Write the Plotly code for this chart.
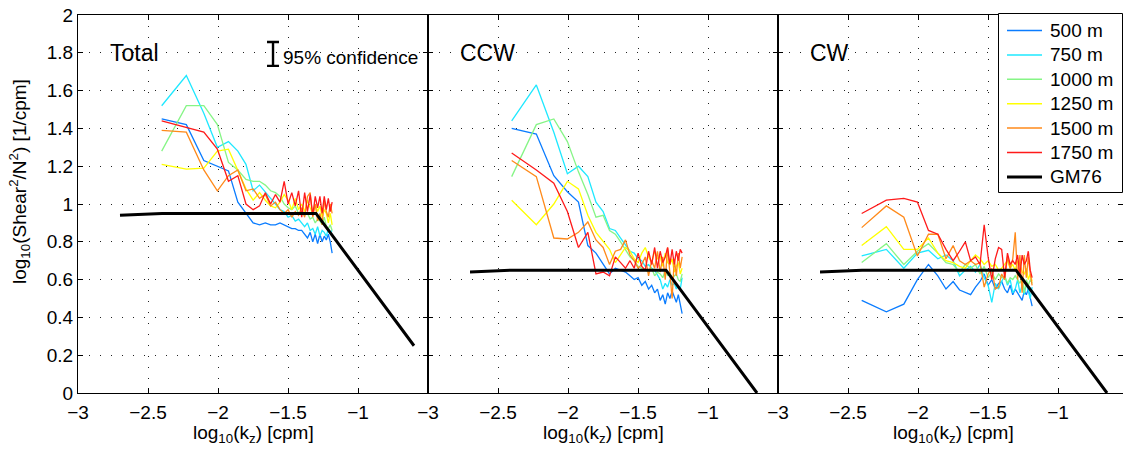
import plotly.graph_objects as go

# log10 wavenumber of each spectral estimate [cpm]
log_kz = [-2.4023, -2.2262, -2.1013, -2.0044, -1.9252, -1.8582, -1.8002, -1.7491,
          -1.7033, -1.6619, -1.6242, -1.5894, -1.5572, -1.5272, -1.4992, -1.4729,
          -1.4481, -1.4246, -1.4023, -1.3811, -1.3609, -1.3416, -1.3231, -1.3054,
          -1.2884, -1.2720, -1.2562, -1.2409, -1.2262, -1.2120, -1.1982, -1.1848]

depths = ["500 m", "750 m", "1000 m", "1250 m", "1500 m", "1750 m"]
colors = ["#0a7cff", "#1ee8ff", "#86f586", "#ffff00", "#ff8a1a", "#ff1a1a"]

total = {
    "500 m": [1.45, 1.42, 1.23, 1.20, 1.175, 1.01, 0.95, 0.90, 0.89, 0.90, 0.89, 0.89, 0.90, 0.89, 0.88, 0.87,
              0.87, 0.86, 0.86, 0.84, 0.82, 0.85, 0.80, 0.84, 0.79, 0.84, 0.80, 0.83, 0.81, 0.84, 0.80, 0.74],
    "750 m": [1.52, 1.68, 1.48, 1.30, 1.33, 1.28, 1.21, 1.07, 1.10, 1.06, 1.03, 1.00, 0.97, 0.96, 0.93, 0.94,
              0.91, 0.92, 0.90, 0.88, 0.90, 0.86, 0.87, 0.84, 0.88, 0.83, 0.86, 0.85, 0.83, 0.87, 0.85, 0.86],
    "1000 m": [1.28, 1.52, 1.52, 1.42, 1.22, 1.18, 1.13, 1.12, 1.12, 1.10, 1.07, 1.06, 1.04, 1.00, 0.98, 0.97,
               0.99, 0.95, 0.96, 0.94, 0.95, 0.92, 0.93, 0.90, 0.92, 0.91, 0.89, 0.93, 0.88, 0.87, 0.89, 0.86],
    "1250 m": [1.21, 1.185, 1.19, 1.28, 1.29, 1.18, 1.08, 1.02, 1.06, 1.02, 0.99, 0.98, 1.01, 1.05, 1.02, 0.97,
               1.03, 0.97, 1.00, 0.96, 1.02, 0.98, 0.95, 1.00, 0.96, 0.99, 0.93, 0.97, 0.95, 0.90, 0.95, 0.89],
    "1500 m": [1.39, 1.38, 1.18, 1.07, 1.15, 1.18, 1.07, 1.08, 1.03, 1.05, 0.99, 1.01, 0.97, 0.95, 0.97, 0.93,
               0.96, 0.94, 0.98, 0.93, 1.04, 1.06, 0.93, 1.00, 0.91, 0.95, 0.89, 1.02, 0.96, 0.93, 1.00, 0.95],
    "1750 m": [1.44, 1.405, 1.38, 1.29, 1.12, 1.15, 1.00, 0.97, 0.99, 1.06, 1.00, 1.05, 1.01, 1.12, 1.00, 1.06,
               0.99, 1.07, 0.93, 1.06, 0.96, 1.05, 0.94, 1.04, 0.98, 1.04, 0.95, 1.04, 0.97, 1.03, 0.96, 1.01],
}

ccw = {
    "500 m": [1.40, 1.37, 1.15, 1.065, 1.01, 0.78, 0.74, 0.68, 0.63, 0.66, 0.65, 0.64, 0.62, 0.60, 0.61, 0.57,
              0.59, 0.55, 0.57, 0.53, 0.55, 0.49, 0.52, 0.47, 0.53, 0.50, 0.54, 0.51, 0.48, 0.52, 0.47, 0.42],
    "750 m": [1.44, 1.63, 1.38, 1.16, 1.20, 1.145, 1.01, 0.96, 0.87, 0.86, 0.82, 0.78, 0.75, 0.74, 0.71, 0.70,
              0.67, 0.68, 0.66, 0.65, 0.62, 0.60, 0.55, 0.58, 0.56, 0.60, 0.57, 0.58, 0.55, 0.57, 0.55, 0.61],
    "1000 m": [1.145, 1.42, 1.45, 1.33, 1.17, 1.05, 0.93, 0.94, 0.86, 0.84, 0.80, 0.76, 0.72, 0.70, 0.67, 0.66,
               0.65, 0.64, 0.66, 0.62, 0.64, 0.63, 0.61, 0.65, 0.62, 0.64, 0.60, 0.62, 0.63, 0.60, 0.59, 0.63],
    "1250 m": [1.02, 0.89, 1.00, 1.12, 1.08, 0.94, 0.85, 0.80, 0.76, 0.69, 0.73, 0.77, 0.75, 0.71, 0.69, 0.74,
               0.77, 0.72, 0.69, 0.75, 0.71, 0.72, 0.67, 0.74, 0.69, 0.68, 0.71, 0.64, 0.67, 0.69, 0.63, 0.66],
    "1500 m": [1.23, 1.145, 0.82, 0.815, 0.85, 0.905, 0.81, 0.77, 0.68, 0.75, 0.76, 0.81, 0.73, 0.70, 0.66, 0.68,
               0.72, 0.62, 0.70, 0.66, 0.75, 0.64, 0.72, 0.60, 0.77, 0.62, 0.50, 0.71, 0.62, 0.74, 0.66, 0.72],
    "1750 m": [1.27, 1.18, 1.11, 0.96, 0.77, 0.85, 0.63, 0.64, 0.62, 0.72, 0.69, 0.66, 0.70, 0.66, 0.74, 0.67,
               0.65, 0.75, 0.68, 0.77, 0.66, 0.75, 0.69, 0.72, 0.77, 0.68, 0.76, 0.68, 0.75, 0.70, 0.76, 0.74],
}

cw = {
    "500 m": [0.49, 0.43, 0.47, 0.60, 0.68, 0.62, 0.55, 0.59, 0.545, 0.53, 0.52, 0.56, 0.59, 0.63, 0.57, 0.60,
              0.55, 0.58, 0.59, 0.55, 0.53, 0.57, 0.52, 0.55, 0.53, 0.51, 0.49, 0.54, 0.52, 0.55, 0.51, 0.46],
    "750 m": [0.725, 0.76, 0.66, 0.74, 0.755, 0.71, 0.73, 0.70, 0.62, 0.65, 0.67, 0.64, 0.68, 0.61, 0.57, 0.48,
              0.58, 0.55, 0.59, 0.62, 0.57, 0.60, 0.53, 0.55, 0.60, 0.53, 0.57, 0.52, 0.58, 0.54, 0.50, 0.56],
    "1000 m": [0.69, 0.79, 0.68, 0.75, 0.79, 0.74, 0.69, 0.68, 0.64, 0.68, 0.66, 0.68, 0.63, 0.67, 0.61, 0.64,
               0.60, 0.63, 0.61, 0.62, 0.58, 0.61, 0.60, 0.62, 0.60, 0.58, 0.61, 0.53, 0.60, 0.57, 0.60, 0.58],
    "1250 m": [0.78, 0.88, 0.76, 0.76, 0.82, 0.74, 0.70, 0.69, 0.67, 0.66, 0.70, 0.73, 0.71, 0.68, 0.70, 0.67,
               0.68, 0.65, 0.66, 0.68, 0.70, 0.66, 0.68, 0.65, 0.70, 0.68, 0.64, 0.63, 0.66, 0.60, 0.63, 0.59],
    "1500 m": [0.875, 0.99, 0.93, 0.725, 0.84, 0.84, 0.71, 0.78, 0.70, 0.68, 0.70, 0.68, 0.69, 0.56, 0.63, 0.66,
               0.55, 0.56, 0.63, 0.60, 0.72, 0.66, 0.71, 0.85, 0.60, 0.73, 0.53, 0.73, 0.61, 0.72, 0.63, 0.57],
    "1750 m": [0.95, 1.02, 1.03, 1.01, 0.86, 0.84, 0.76, 0.70, 0.75, 0.80, 0.70, 0.72, 0.68, 0.89, 0.72, 0.60,
               0.71, 0.77, 0.76, 0.61, 0.74, 0.68, 0.70, 0.68, 0.73, 0.62, 0.73, 0.68, 0.70, 0.75, 0.65, 0.61],
}

# GM76 reference spectrum (log10 kz, log10 level) per panel
gm_x_total = [-2.7, -2.4, -1.3, -0.6]
gm_y_total = [0.94, 0.95, 0.95, 0.25]
gm_x_half = [-2.7, -2.4, -1.3, -0.65]
gm_y_half = [0.64, 0.65, 0.65, 0.0]

panel_titles = ["Total", "CCW", "CW"]
x_ticks = [-3, -2.5, -2, -1.5, -1]
x_title = "log<sub>10</sub>(k<sub>z</sub>) [cpm]"
y_title = "log<sub>10</sub>(Shear<sup>2</sup>/N<sup>2</sup>) [1/cpm]"

conf_x, conf_y, conf_half = -1.607, 1.794, 0.063
conf_label = "95% confidence"

FONT = "Liberation Sans, Arial, Helvetica, sans-serif"
fig = go.Figure()

panels = [(total, gm_x_total, gm_y_total), (ccw, gm_x_half, gm_y_half), (cw, gm_x_half, gm_y_half)]
for p, (data, gx, gy) in enumerate(panels):
    xa = "x" if p == 0 else f"x{p+1}"
    ya = "y" if p == 0 else f"y{p+1}"
    for name, col in zip(depths, colors):
        fig.add_trace(go.Scatter(x=log_kz, y=data[name], mode="lines", name=name,
                                 line=dict(color=col, width=1.3), xaxis=xa, yaxis=ya,
                                 showlegend=False))
    fig.add_trace(go.Scatter(x=gx, y=gy, mode="lines", name="GM76",
                             line=dict(color="black", width=3), xaxis=xa, yaxis=ya,
                             showlegend=False))

# 95% confidence bar
fig.add_trace(go.Scatter(x=[conf_x], y=[conf_y], mode="markers", showlegend=False,
                         marker=dict(size=1, color="black", opacity=0),
                         error_y=dict(type="constant", value=conf_half, color="black",
                                      thickness=2.4, width=6),
                         xaxis="x", yaxis="y"))

W, H = 1123, 452
ml, mt, mb = 78, 15, 59
pw = W - ml
ph = H - mt - mb
pan = 350
domains = [[0, pan / pw], [pan / pw, 2 * pan / pw], [2 * pan / pw, 1]]
x_end3 = -3 + (pw - 2 * pan) / 140.0


def px(x):
    return (x - ml) / pw


def py(y):
    return (H - mb - y) / ph


axis_common = dict(showline=True, linecolor="black", linewidth=1.3, mirror="ticks",
                   ticks="inside", ticklen=5, tickcolor="black", tickwidth=1,
                   showgrid=True, gridcolor="#222222", gridwidth=1, griddash="1px,10px",
                   zeroline=False, tickfont=dict(family=FONT, size=19, color="black"))

layout = dict(width=W, height=H, margin=dict(l=ml, r=0, t=mt, b=mb),
              paper_bgcolor="white", plot_bgcolor="white",
              font=dict(family=FONT, size=19, color="black"), showlegend=False)

for p in range(3):
    sx = "" if p == 0 else str(p + 1)
    rng = [-3, -0.5] if p < 2 else [-3, x_end3]
    layout[f"xaxis{sx}"] = dict(axis_common, domain=domains[p], range=rng,
                                tickvals=x_ticks, anchor=f"y{sx}", ticklabelstandoff=2)
    layout[f"yaxis{sx}"] = dict(axis_common, domain=[0, 1], range=[0, 2], dtick=0.2, tick0=0,
                                anchor=f"x{sx}", showticklabels=(p == 0))

fig.update_layout(**layout)

for p, t in enumerate(panel_titles):
    sx = "" if p == 0 else str(p + 1)
    fig.add_annotation(x=-2.786, y=1.8, xref=f"x{sx}", yref=f"y{sx}", text=t,
                       showarrow=False, xanchor="left", yanchor="middle",
                       font=dict(family=FONT, size=23, color="black"))
    cx = (p * pan + pan / 2) / pw
    fig.add_annotation(x=cx, y=py(434), xref="paper", yref="paper", text=x_title,
                       showarrow=False, xanchor="center", yanchor="middle", borderpad=0,
                       font=dict(family=FONT, size=19, color="black"))

fig.add_annotation(x=px(20), y=py(182), xref="paper", yref="paper",
                   text=y_title, textangle=-90, showarrow=False,
                   xanchor="center", yanchor="middle",
                   font=dict(family=FONT, size=19, color="black"))

fig.add_annotation(x=conf_x + 0.055, y=conf_y - 0.02, xref="x", yref="y", text=conf_label,
                   showarrow=False, xanchor="left", yanchor="middle",
                   font=dict(family=FONT, size=19, color="black"))

# Legend box (drawn in the upper-right corner of the CW panel)
leg_names = depths + ["GM76"]
leg_colors = colors + ["black"]
leg_widths = [1.5] * len(depths) + [3]
fig.add_shape(type="rect", xref="paper", yref="paper",
              x0=px(998.5), x1=px(1122.5), y0=py(192.5), y1=py(13.5),
              line=dict(color="black", width=1), fillcolor="white", layer="above")
for i, (nm, col, wd) in enumerate(zip(leg_names, leg_colors, leg_widths)):
    yc = 30.5 + 24.4 * i
    fig.add_shape(type="line", xref="paper", yref="paper",
                  x0=px(1007), x1=px(1042), y0=py(yc), y1=py(yc),
                  line=dict(color=col, width=wd), layer="above")
    fig.add_annotation(x=px(1049), y=py(yc), xref="paper", yref="paper", text=nm,
                       showarrow=False, xanchor="left", yanchor="middle", borderpad=0,
                       font=dict(family=FONT, size=19, color="black"))

fig.write_html("out.html")
